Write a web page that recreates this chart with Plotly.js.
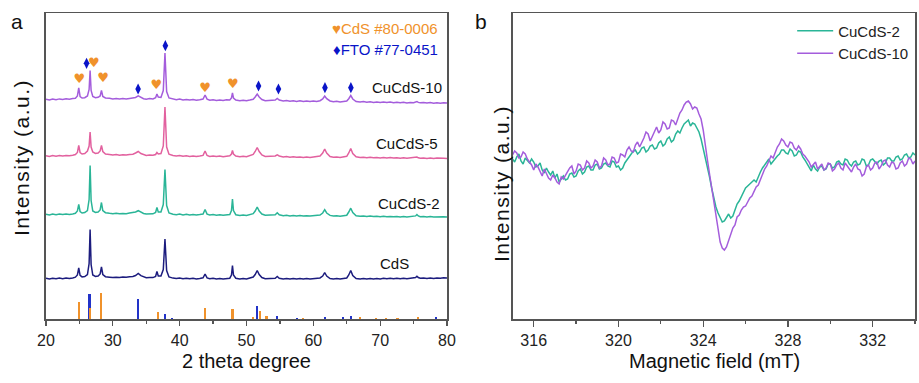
<!DOCTYPE html>
<html>
<head>
<meta charset="utf-8">
<script src="https://cdn.plot.ly/plotly-3.0.1.min.js"></script>
<style>
  html, body { margin: 0; padding: 0; background: #fff; }
  #chart { width: 919px; height: 383px; }
</style>
</head>
<body>
<div id="chart"></div>
<script>
// ---------------- Panel a: XRD ----------------
const twoTheta = [20.0,20.5,21.0,21.5,22.0,22.5,23.0,23.5,24.0,24.4,
  24.7,24.9,25.1,25.4,25.8,26.2,26.45,26.6,26.75,27.0,
  27.4,27.8,28.1,28.3,28.5,28.9,29.5,30.0,30.5,31.0,
  31.5,32.0,32.5,33.0,33.4,33.8,34.2,34.6,35.0,35.5,
  36.0,36.4,36.6,36.8,37.2,37.55,37.8,38.05,38.4,39.0,
  39.5,40.0,40.5,41.0,41.5,42.0,42.5,43.0,43.5,43.8,
  44.1,44.5,45.0,45.5,46.0,46.5,47.0,47.5,47.75,47.9,
  48.05,48.4,49.0,49.5,50.0,50.5,51.0,51.3,51.6,51.9,
  52.3,52.8,53.3,53.8,54.3,54.6,54.9,55.5,56.0,56.5,
  57.0,57.5,58.0,58.5,59.0,59.5,60.0,60.5,61.0,61.4,
  61.7,62.0,62.5,63.0,63.5,64.0,64.5,65.0,65.3,65.6,
  65.9,66.4,67.0,67.5,68.0,68.5,69.0,69.5,70.0,70.5,
  71.0,71.5,72.0,72.5,73.0,73.5,74.0,74.5,75.0,75.3,
  75.5,75.7,76.0,76.5,77.0,77.5,78.0,78.5,79.0,79.5,80.0];

const xrdCuCdS10 = [0.3,-0.4,0.5,-0.2,0.6,0.1,0.7,0.2,0.9,1.2,
  3.5,11.5,3.0,1.5,1.8,3.5,10,29,9,3.0,
  1.8,2.2,3.5,9,3.0,1.5,1.2,0.6,1.0,0.4,
  0.9,0.5,1.1,1.2,2.0,3.6,2.0,0.8,0.3,0.9,
  0.6,1.8,5.5,2.5,2.0,9,46.5,8,1.5,0.2,
  -0.3,0.4,-0.5,0.1,-0.6,0.0,-0.7,-0.2,0.4,4.5,
  0.3,-0.8,-0.2,-0.9,-0.4,-1.0,-0.3,-0.5,1.5,6.5,
  1.5,-0.6,-1.2,-0.7,-1.3,-0.6,0.2,2.5,5.5,2.5,
  0.0,-1.2,-0.9,-1.0,-0.5,1.0,-0.5,-1.5,-1.0,-1.8,
  -1.2,-1.9,-1.3,-2.0,-1.5,-2.1,-1.6,-2.0,-1.2,0.5,
  3.5,0.8,-1.5,-2.2,-1.8,-2.5,-1.9,-1.5,0.8,4.0,
  0.5,-2.0,-2.6,-2.1,-2.8,-2.3,-2.9,-2.4,-3.0,-2.5,
  -3.1,-2.6,-3.2,-2.7,-3.3,-2.8,-3.4,-2.9,-3.2,-2.8,
  -2.0,-2.9,-3.3,-3.0,-3.6,-3.1,-3.7,-3.2,-3.8,-3.3,-3.6];

const xrdCuCdS5 = [0.2,-0.5,0.4,-0.3,0.5,0.0,0.6,0.3,0.8,1.5,
  3.5,10.5,3.5,2.0,2.5,5.0,10,24,9,4.0,
  2.5,3.0,5.0,10.5,4.5,2.0,1.5,1.0,1.4,0.8,
  1.2,0.9,1.5,1.8,3.0,4.5,2.5,1.2,0.6,1.0,
  0.8,1.5,3.5,2.0,2.5,10,49,9,1.8,0.5,
  0.0,0.5,-0.3,0.2,-0.4,0.1,-0.5,0.0,0.6,5.0,
  0.5,-0.4,0.0,-0.6,-0.1,-0.7,0.0,0.3,2.0,5.5,
  2.0,0.0,-0.7,-0.3,-0.8,0.0,1.5,4.5,8.5,4.5,
  1.0,-0.5,-0.4,-0.6,0.0,1.2,0.0,-1.0,-0.6,-1.2,
  -0.8,-1.3,-0.9,-1.4,-1.0,-1.4,-0.9,-1.0,0.0,3.0,
  7.0,3.0,-0.5,-1.3,-1.0,-1.5,-1.0,-0.3,3.0,7.5,
  2.5,-0.8,-1.5,-1.2,-1.7,-1.3,-1.8,-1.4,-1.9,-1.5,
  -2.0,-1.6,-2.1,-1.7,-2.2,-1.8,-2.3,-1.9,-2.1,-1.8,
  -1.0,-1.8,-2.2,-1.9,-2.4,-2.0,-2.5,-2.1,-2.5,-2.2,-2.4];

const xrdCuCdS2 = [0.2,-0.4,0.5,-0.2,0.4,-0.1,0.5,0.1,0.6,1.2,
  3.5,10,3.0,1.5,2.0,4.0,15,49,14,3.5,
  2.0,2.5,4.5,12,4.0,1.8,1.2,0.8,1.3,0.7,
  1.1,0.8,1.4,1.6,2.5,3.8,2.0,1.0,0.4,0.9,
  0.7,2.0,7.0,2.5,2.5,10,45,9,1.6,0.3,
  -0.2,0.4,-0.4,0.2,-0.5,0.0,-0.6,-0.1,0.5,5.0,
  0.4,-0.5,-0.1,-0.7,-0.2,-0.8,-0.2,0.0,4.0,15.5,
  4.0,-0.2,-0.9,-0.5,-1.0,-0.3,0.8,3.5,7.5,3.5,
  0.5,-0.8,-0.6,-0.8,-0.2,1.8,-0.2,-1.2,-0.8,-1.4,
  -1.0,-1.5,-1.1,-1.6,-1.2,-1.6,-1.1,-1.3,-0.6,1.5,
  4.8,1.5,-0.9,-1.6,-1.3,-1.8,-1.3,-0.7,2.5,6.3,
  2.0,-1.2,-1.8,-1.5,-2.0,-1.6,-2.1,-1.7,-2.2,-1.8,
  -2.3,-1.9,-2.3,-1.9,-2.4,-2.0,-2.4,-2.0,-2.2,-1.4,
  0.0,-1.4,-2.3,-2.0,-2.5,-2.1,-2.5,-2.2,-2.6,-2.2,-2.4];

const xrdCdS = [0.2,-0.5,0.3,-0.3,0.4,-0.2,0.5,0.0,0.6,1.3,
  3.5,10.5,3.2,1.6,2.0,4.0,15,49,14,3.5,
  2.0,2.5,4.5,11.5,4.0,1.8,1.3,0.9,1.3,1.0,
  1.5,1.2,1.8,2.0,3.0,5.0,2.8,1.4,0.8,1.0,
  0.9,2.0,7.0,2.5,2.5,9,39.5,8,1.5,0.4,
  0.0,0.5,-0.2,0.3,-0.3,0.2,-0.4,0.1,0.7,4.5,
  0.6,-0.2,0.2,-0.4,0.1,-0.5,0.1,0.3,3.5,13,
  3.5,0.2,-0.4,0.0,-0.5,0.2,1.5,4.0,8.0,4.0,
  1.0,-0.3,0.0,-0.2,0.3,2.0,0.2,-0.5,0.0,-0.6,
  -0.1,-0.6,-0.1,-0.6,0.0,-0.5,0.1,0.0,0.6,2.5,
  6.0,2.5,0.0,-0.4,0.0,-0.5,0.0,0.5,3.5,8.0,
  3.0,0.0,-0.4,0.0,-0.5,0.0,-0.5,0.1,-0.4,0.2,
  -0.3,0.2,-0.3,0.3,-0.2,0.3,-0.2,0.4,0.3,1.0,
  2.3,1.0,0.2,0.5,0.0,0.6,0.1,0.6,0.2,0.7,0.4];

const sampleNames  = ["CdS", "CuCdS-2", "CuCdS-5", "CuCdS-10"];
const sampleColors = ["#1c1c7e", "#2ab597", "#e2619f", "#a45ddc"];
const stackOffsets = [40.8, 104.8, 163.3, 219.8];

// reference patterns (standard cards)
const cdsCardPos    = [24.9, 26.6, 28.2, 36.7, 43.8, 47.9, 51.0, 52.0, 53.0, 58.4, 67.0, 69.4, 70.9, 72.6, 75.6];
const cdsCardHeight = [17, 11, 26, 7, 11, 10, 2, 8, 3, 1, 2, 1, 1, 1, 2];
const ftoCardPos    = [26.5, 33.8, 37.8, 38.8, 51.6, 54.6, 57.6, 61.7, 64.5, 65.7, 78.3];
const ftoCardHeight = [25, 20, 5, 1, 13, 3, 1.5, 2, 2, 3, 2];

// phase markers above CuCdS-10
const heartPos   = [24.97, 27.16, 28.55, 36.5, 43.8, 47.96];
const heartLevel = [240, 256, 241, 233.3, 230.3, 234.3];
const diamondPos   = [26.07, 33.78, 37.86, 51.8, 54.78, 61.74, 65.62];
const diamondLevel = [256, 230.3, 273.6, 233.3, 230.3, 231.6, 231.6];

// ---------------- Panel b: EPR ----------------
const fieldStart = 315.0;   // mT
const fieldStep  = 0.1;     // mT
const eprCuCdS10 = [0,4,2,-3,-2,3,1,-4,-7,-10,
  -15,-9,-12,-17,-21,-14,-18,-23,-25,-20,
  -23,-27,-29,-22,-24,-20,-17,-13,-11,-19,
  -16,-9,-10,-15,-13,-6,-8,-13,-11,-5,
  -7,-13,-11,-3,-5,-10,-9,-2,-3,-8,
  -7,1,0,-2,5,8,4,3,10,13,
  8,12,17,23,21,14,19,24,28,22,
  25,33,31,26,27,35,34,30,37,42,
  45,50,53,54,51,46,48,47,41,36,
  25,12,-5,-19,-33,-47,-60,-75,-87,-93,
  -95,-92,-86,-80,-73,-70,-62,-60,-55,-52,
  -51,-47,-43,-41,-37,-32,-30,-24,-19,-14,
  -11,-6,-1,-3,3,8,11,16,14,10,
  8,13,12,7,5,9,6,1,-1,-4,
  -7,-12,-10,-7,-14,-11,-9,-15,-13,-8,
  -9,-16,-14,-10,-8,-13,-15,-8,-11,-14,
  -17,-12,-9,-14,-15,-21,-19,-12,-10,-15,
  -13,-8,-7,-14,-11,-6,-5,-10,-12,-7,
  -8,-14,-13,-8,-6,-11,-9,-3,-4,-9,
  -6];
const eprCuCdS2 = [-4,-7,-2,1,-6,-9,-3,-5,-8,-4,
  -7,-12,-11,-8,-15,-18,-13,-17,-20,-16,
  -23,-19,-27,-24,-21,-25,-24,-19,-18,-22,
  -21,-16,-14,-19,-17,-12,-11,-15,-15,-10,
  -9,-14,-13,-9,-8,-11,-12,-6,-7,-12,
  -11,-15,-13,-8,-5,-2,0,4,5,1,
  3,7,8,3,5,9,10,6,7,12,
  14,9,11,16,18,13,15,21,24,22,
  27,31,33,35,29,32,31,27,23,16,
  7,-1,-10,-22,-33,-43,-52,-58,-63,-67,
  -66,-62,-59,-63,-61,-55,-49,-46,-42,-37,
  -33,-31,-29,-26,-25,-27,-21,-17,-13,-10,
  -8,-4,-9,-6,-3,-1,1,5,5,2,
  1,6,4,-1,0,4,3,-2,-5,-9,
  -13,-16,-10,-14,-16,-12,-11,-15,-14,-9,
  -9,-13,-12,-7,-6,-9,-10,-4,-5,-9,
  -11,-7,-6,-10,-9,-4,-5,-11,-10,-5,
  -4,-7,-9,-6,-5,-10,-8,-3,-3,-6,
  -6,-2,-1,-5,-4,0,1,-3,-2,2,
  0];

const FONT = "Liberation Sans, Arial, Helvetica, sans-serif";
const AXC = "#555555";
const ORANGE = "#f0922b";
const BLUE = "#0a14c8";

const traces = [];
// stacked XRD patterns
const xrdSeries = [xrdCdS, xrdCuCdS2, xrdCuCdS5, xrdCuCdS10];
xrdSeries.forEach((vals, i) => {
  traces.push({
    type: "scatter", mode: "lines", xaxis: "x", yaxis: "y", name: sampleNames[i],
    x: twoTheta, y: vals.map(v => v + stackOffsets[i]),
    line: {color: sampleColors[i], width: 1.5},
    showlegend: false, hoverinfo: "skip"
  });
});
// standard cards as sticks
traces.push({
  type: "bar", xaxis: "x", yaxis: "y", x: ftoCardPos, y: ftoCardHeight,
  width: 0.32, marker: {color: "#2233c8", line: {width: 0}}, showlegend: false
});
traces.push({
  type: "bar", xaxis: "x", yaxis: "y", x: cdsCardPos, y: cdsCardHeight,
  width: 0.32, marker: {color: ORANGE, line: {width: 0}}, showlegend: false
});
// phase markers
traces.push({
  type: "scatter", mode: "text", xaxis: "x", yaxis: "y",
  x: heartPos, y: heartLevel, text: heartPos.map(() => "♥"),
  textposition: "middle center",
  textfont: {family: "DejaVu Sans", size: 13, color: ORANGE},
  showlegend: false, hoverinfo: "skip", cliponaxis: false
});
traces.push({
  type: "scatter", mode: "markers", xaxis: "x", yaxis: "y",
  x: diamondPos, y: diamondLevel,
  marker: {symbol: "diamond-tall", size: 8, color: BLUE, line: {width: 0}},
  showlegend: false, hoverinfo: "skip"
});
// EPR
traces.push({
  type: "scatter", mode: "lines", xaxis: "x2", yaxis: "y2",
  x0: fieldStart, dx: fieldStep, y: eprCuCdS2, name: "CuCdS-2",
  line: {color: "#2ab597", width: 1.5}
});
traces.push({
  type: "scatter", mode: "lines", xaxis: "x2", yaxis: "y2",
  x0: fieldStart, dx: fieldStep, y: eprCuCdS10, name: "CuCdS-10",
  line: {color: "#a45ddc", width: 1.5}
});

const yDom = [0.1663, 0.9648];
const axisCommon = {
  showline: true, linecolor: AXC, linewidth: 1.5, mirror: true,
  showgrid: false, zeroline: false,
  tickfont: {family: FONT, size: 16, color: "#222"},
  ticks: "outside", tickcolor: AXC, tickwidth: 1.3, ticklen: 5.5
};

const labelAnn = (txt, x, y, color, anchor) => ({
  xref: "x", yref: "y", x: x, y: y, text: txt, showarrow: false,
  xanchor: anchor, yanchor: "middle",
  font: {family: FONT, size: 15, color: color || "#111"}
});

const layout = {
  width: 919, height: 383,
  margin: {l: 0, r: 0, t: 0, b: 0},
  paper_bgcolor: "#fff", plot_bgcolor: "#fff",
  barmode: "overlay", bargap: 0,
  showlegend: true,
  legend: {
    x: 0.862, xanchor: "left", y: 0.962, yanchor: "top",
    font: {family: FONT, size: 15, color: "#222"},
    bgcolor: "rgba(0,0,0,0)", tracegroupgap: 0, itemwidth: 36
  },
  xaxis: Object.assign({}, axisCommon, {
    domain: [0.05005, 0.4864], range: [20, 80], anchor: "y",
    tick0: 20, dtick: 10,
    minor: {dtick: 5, ticks: "outside", ticklen: 3, tickcolor: AXC, tickwidth: 1.2}
  }),
  yaxis: {
    domain: yDom, range: [0, 305.8], anchor: "x",
    showline: true, linecolor: AXC, linewidth: 1.5, mirror: true,
    showgrid: false, zeroline: false, showticklabels: false, ticks: ""
  },
  xaxis2: Object.assign({}, axisCommon, {
    domain: [0.5577, 0.9957], range: [315, 334], anchor: "y2",
    tick0: 316, dtick: 4, ticklen: 6,
    minor: {dtick: 2, ticks: "outside", ticklen: 3, tickcolor: AXC, tickwidth: 1.2}
  }),
  yaxis2: {
    domain: yDom, range: [-164.3, 141.5], anchor: "x2",
    showline: true, linecolor: AXC, linewidth: 1.5, mirror: true,
    showgrid: false, zeroline: false, showticklabels: false, ticks: ""
  },
  annotations: [
    // panel letters
    {xref: "paper", yref: "paper", x: 17/919, y: 1 - 22/383, text: "a", showarrow: false,
     xanchor: "center", yanchor: "middle", font: {family: FONT, size: 21, color: "#111"}},
    {xref: "paper", yref: "paper", x: 481/919, y: 1 - 22/383, text: "b", showarrow: false,
     xanchor: "center", yanchor: "middle", font: {family: FONT, size: 21, color: "#111"}},
    // axis titles
    {xref: "paper", yref: "paper", x: 246.5/919, y: 1 - 361/383, text: "2 theta degree", showarrow: false,
     xanchor: "center", yanchor: "middle", font: {family: FONT, size: 20, color: "#111"}},
    {xref: "paper", yref: "paper", x: 714/919, y: 1 - 361/383, text: "Magnetic field (mT)", showarrow: false,
     xanchor: "center", yanchor: "middle", font: {family: FONT, size: 20, color: "#111"}},
    {xref: "paper", yref: "paper", x: 21/919, y: 1 - 158/383, text: "Intensity (a.u.)", showarrow: false,
     textangle: -90, xanchor: "center", yanchor: "middle", font: {family: FONT, size: 21, color: "#111"}},
    {xref: "paper", yref: "paper", x: 501/919, y: 1 - 183/383, text: "Intensity (a.u.)", showarrow: false,
     textangle: -90, xanchor: "center", yanchor: "middle", font: {family: FONT, size: 21, color: "#111"}},
    // sample labels
    labelAnn("CuCdS-10", 79.6, 231.3, "#111", "right"),
    labelAnn("CuCdS-5", 79.0, 175.5, "#111", "right"),
    labelAnn("CuCdS-2", 79.3, 116.0, "#111", "right"),
    labelAnn("CdS", 74.6, 55.8, "#111", "right"),
    // card legends
    labelAnn("♥CdS #80-0006", 79.0, 291.0, ORANGE, "right"),
    labelAnn("♦FTO #77-0451", 79.0, 270.0, BLUE, "right")
  ]
};

Plotly.newPlot("chart", traces, layout, {staticPlot: true, displayModeBar: false}).then(() => {
  // the source figure's vertical axis titles are slightly elongated
  document.querySelectorAll("text.annotation-text").forEach(t => {
    if (t.textContent === "Intensity (a.u.)") t.style.letterSpacing = "1.5px";
  });
});
</script>
</body>
</html>
